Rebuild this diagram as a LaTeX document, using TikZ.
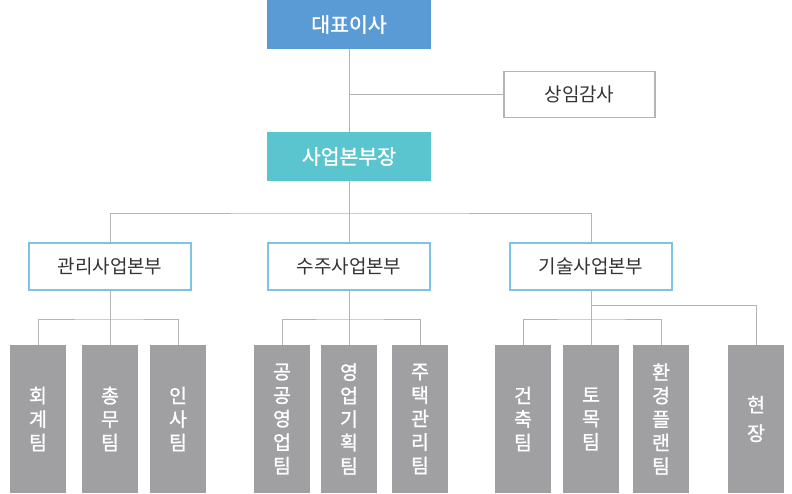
\documentclass[tikz,border=0pt]{standalone}
\usepackage{fontspec}
\setmainfont{Noto Sans CJK KR}
\newfontfamily\medfont[FakeBold=1.2]{Noto Sans CJK KR}
\usepackage{tikz}

\definecolor{ceoblue}{HTML}{5B9BD5}
\definecolor{vpteal}{HTML}{5BC5CF}
\definecolor{subline}{HTML}{7DC3E8}
\definecolor{linkgray}{HTML}{B4B4B4}
\definecolor{teamgray}{HTML}{A0A0A2}
\definecolor{textgray}{HTML}{333333}

\begin{document}
\begin{tikzpicture}[x=1pt,y=-1pt,
    topbox/.style={fill=#1, text=white, minimum width=164pt, minimum height=49pt,
        inner sep=0pt, font=\medfont\fontsize{20.5}{24}\selectfont},
    auditbox/.style={draw=linkgray, line width=1.6pt, minimum width=151pt,
        minimum height=46pt, inner sep=0pt, text=textgray, font=\fontsize{19}{22}\selectfont},
    subbox/.style={draw=subline, line width=1.6pt, minimum width=162pt,
        minimum height=47pt, inner sep=0pt, text=textgray, font=\fontsize{19}{22}\selectfont},
    teambox/.style={fill=teamgray, text=white, minimum width=56pt, minimum height=148pt,
        inner sep=0pt, align=center, font=\medfont\fontsize{19.5}{23.5}\selectfont},
    link/.style={draw=linkgray, line width=1pt}]
    \useasboundingbox (0,0) rectangle (792,493);

    % top of the chart
    \node[topbox=ceoblue] (ceo) at (349,24.5) {대표이사};
    \node[auditbox] (audit) at (579.5,94.5) {상임감사};
    \node[topbox=vpteal] (vp) at (349,156.5) {사업본부장};

    \draw[link] (ceo) -- (vp);
    \draw[link] (audit.west) -- (audit.west -| ceo);

    % business divisions
    \node[subbox] (gl) at (110,266.5) {관리사업본부};
    \node[subbox] (sj) at (349,266.5) {수주사업본부};
    \node[subbox] (gs) at (591,266.5) {기술사업본부};

    \coordinate (bus) at (349,213);
    \draw[link] (vp) -- (sj);
    \draw[link] (gl.north) |- (bus) -| (gs.north);

    % teams
    \foreach \name/\x/\txt in {t1/38/{회\\계\\팀}, t2/110/{총\\무\\팀}, t3/178/{인\\사\\팀},
        t4/282/{공\\공\\영\\업\\팀}, t5/349/{영\\업\\기\\획\\팀}, t6/420/{주\\택\\관\\리\\팀},
        t7/523/{건\\축\\팀}, t8/591/{토\\목\\팀}, t9/661/{환\\경\\플\\랜\\팀},
        t10/756/{현\\[5pt]장}}
        \node[teambox] (\name) at (\x,419) {\txt};

    \coordinate (glbus) at (110,319);
    \coordinate (sjbus) at (349,319);
    \coordinate (gsbus) at (591,319);
    \coordinate (fieldbus) at (591,305.5);

    \draw[link] (gl) -- (t2);
    \draw[link] (t1.north) |- (glbus) -| (t3.north);
    \draw[link] (sj) -- (t5);
    \draw[link] (t4.north) |- (sjbus) -| (t6.north);
    \draw[link] (gs) -- (t8);
    \draw[link] (t7.north) |- (gsbus) -| (t9.north);
    \draw[link] (fieldbus) -| (t10.north);
\end{tikzpicture}
\end{document}
